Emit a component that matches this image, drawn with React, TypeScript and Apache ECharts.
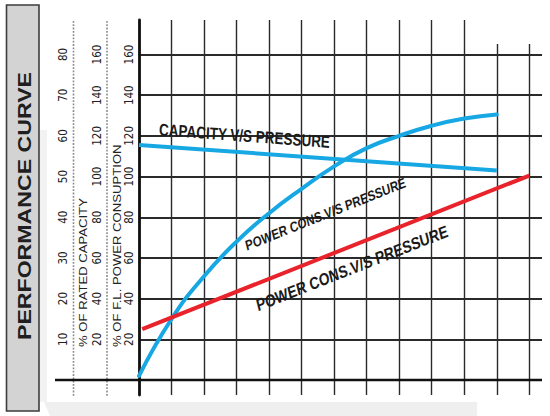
import React, { useEffect, useRef } from "react";
import * as echarts from "echarts";

// ---- data ----
const pressureSteps = [0, 1, 2, 3, 4, 5, 6, 7, 8, 9, 10, 11];
const powerConsCurve = [2, 30, 51, 68, 82, 94, 105, 114, 120, 125, 128.5, 130.5];
const capacityLineX = [0, 11];
const capacityLine = [115.5, 103];
const powerConsLineX = [0.1, 12];
const powerConsLine = [25, 100.5];

const powerTickLabels = [20, 40, 60, 80, 100, 120, 140, 160];
const capacityTickLabels = [20, 40, 60, 80, 100, 120, 140, 160];
const ratedTickLabels = [10, 20, 30, 40, 50, 60, 70, 80];
const pressureCells = 12;

const titleText = "PERFORMANCE CURVE";
const axisNames = ["% OF RATED CAPACITY", "% OF F.L. POWER CONSUPTION"];
const curveLabels = ["CAPACITY V/S PRESSURE", "POWER CONS.V/S PRESSURE", "POWER CONS.V/S PRESSURE"];

// ---- layout ----
const S = 1.25; // vertical stretch of the scanned sheet (texts look tall)
const FONT = "'Liberation Sans', Arial, Helvetica, sans-serif";
const NARROW = "'Liberation Sans Narrow', 'Arial Narrow', 'DejaVu Sans Condensed', 'Liberation Sans', sans-serif";
const BLUE = "#17a8e3";
const RED = "#e8232b";
const GRIDC = "#2a2a2a";

const plotLeft = 139;
const plotRight = 529.3;
const plotTop = 54.5;
const plotBottom = 380;
const gridRightEdge = 542;
const cellW = (plotRight - plotLeft) / pressureCells;

function stretchedText(
  text: string,
  x: number,
  y: number,
  rotation: number,
  font: string,
  align: string,
  fill: string,
  z: number
) {
  return {
    type: "group",
    x,
    y,
    scaleY: S,
    z,
    children: [
      {
        type: "text",
        rotation,
        z,
        style: { text, fill, font, textAlign: align, textVerticalAlign: "middle" },
      },
    ],
  };
}

function slopeLabel(text: string, cx: number, cy: number, x1: number, y1: number, x2: number, y2: number, size: number) {
  const rot = -Math.atan2((y2 - y1) / S, x2 - x1);
  return stretchedText(text, cx, cy, rot, `bold ${size}px ${FONT}`, "center", "#1a1a1a", 20);
}

function tickAxis(labels: number[], offset: number, split: boolean) {
  return {
    type: "value",
    gridIndex: 0,
    position: "left",
    offset,
    min: 0,
    max: labels[labels.length - 1],
    interval: labels[1] - labels[0],
    axisLine: { show: false },
    axisTick: { show: false },
    splitLine: split
      ? { show: true, showMinLine: false, lineStyle: { color: GRIDC, width: 1.9, type: "solid" } }
      : { show: false },
    axisLabel: {
      rotate: 90,
      margin: 4,
      fontSize: 11.5,
      color: "#222",
      fontFamily: NARROW,
      showMinLabel: false,
    },
  };
}

export default function App() {
  const ref = useRef<HTMLDivElement>(null);
  useEffect(() => {
    const chart = echarts.init(ref.current!, null, { renderer: "svg", width: 550, height: 416 });
    const option: any = {
      animation: false,
      backgroundColor: "#ffffff",
      grid: [
        { left: plotLeft, top: plotTop, width: gridRightEdge - plotLeft, height: plotBottom - plotTop },
        { left: plotLeft, top: 20, width: plotRight - plotLeft, height: 395 - 20 },
      ],
      xAxis: [
        {
          type: "value",
          gridIndex: 0,
          min: 0,
          max: (gridRightEdge - plotLeft) / cellW,
          interval: 1,
          axisLine: { show: false },
          axisTick: { show: false },
          axisLabel: { show: false },
          splitLine: { show: false },
        },
        {
          type: "value",
          gridIndex: 1,
          min: 0,
          max: pressureCells,
          interval: 1,
          axisLine: { show: false },
          axisTick: { show: false },
          axisLabel: { show: false },
          splitLine: { show: true, lineStyle: { color: GRIDC, width: 1.4 } },
        },
      ],
      yAxis: [
        tickAxis(powerTickLabels, 0, true),
        tickAxis(capacityTickLabels, 32, false),
        tickAxis(ratedTickLabels, 66.5, false),
        {
          type: "value",
          gridIndex: 1,
          min: 0,
          max: 1,
          axisLine: { show: true, lineStyle: { color: "#111", width: 2.8 } },
          axisTick: { show: false },
          axisLabel: { show: false },
          splitLine: { show: false },
        },
      ],
      series: [
        {
          name: curveLabels[1],
          type: "line",
          xAxisIndex: 0,
          yAxisIndex: 0,
          data: pressureSteps.map((x, i) => [x, powerConsCurve[i]]),
          smooth: 0.5,
          showSymbol: false,
          lineStyle: { color: BLUE, width: 4, cap: "round" },
          z: 5,
        },
        {
          name: curveLabels[0],
          type: "line",
          xAxisIndex: 0,
          yAxisIndex: 1,
          data: capacityLineX.map((x, i) => [x, capacityLine[i]]),
          showSymbol: false,
          lineStyle: { color: BLUE, width: 4 },
          z: 5,
        },
        {
          name: curveLabels[2],
          type: "line",
          xAxisIndex: 0,
          yAxisIndex: 0,
          data: powerConsLineX.map((x, i) => [x, powerConsLine[i]]),
          showSymbol: false,
          lineStyle: { color: RED, width: 4 },
          z: 6,
        },
      ],
      graphic: {
        elements: [
          {
            type: "polygon",
            z: 0,
            shape: { points: [[44, 402], [477, 402], [477, 416], [50, 416]] },
            style: { fill: "#efefef" },
          },
          {
            type: "rect",
            z: 0,
            shape: { x: 40, y: 130, width: 7, height: 272 },
            style: { fill: "#f2f2f2" },
          },
          {
            type: "rect",
            z: 1,
            shape: { x: 6.5, y: 5, width: 32.5, height: 406 },
            style: { fill: "#d3d3d3", stroke: "#3c3c3c", lineWidth: 1.6 },
          },
          stretchedText(titleText, 24, 206, Math.PI / 2, `bold 18.5px ${FONT}`, "center", "#1f1f1f", 2),
          {
            type: "line",
            z: 1,
            shape: { x1: 73.5, y1: 21, x2: 73.5, y2: 396 },
            style: { stroke: "#8a8a8a", lineWidth: 1.6, lineDash: [1.8, 1.5] },
          },
          {
            type: "line",
            z: 1,
            shape: { x1: 107, y1: 21, x2: 107, y2: 396 },
            style: { stroke: "#8a8a8a", lineWidth: 1.6, lineDash: [1.8, 1.5] },
          },
          {
            type: "line",
            z: 3,
            shape: { x1: 55, y1: plotBottom, x2: gridRightEdge, y2: plotBottom },
            style: { stroke: "#111", lineWidth: 2.7 },
          },
          {
            type: "rect",
            z: 10,
            shape: { x: 466, y: 0, width: 90, height: 44 },
            style: { fill: "#ffffff" },
          },
          stretchedText(axisNames[0], 83, 347, Math.PI / 2, `10.5px ${FONT}`, "left", "#222", 2),
          stretchedText(axisNames[1], 117.5, 347, Math.PI / 2, `10.5px ${FONT}`, "left", "#222", 2),
          slopeLabel(curveLabels[0], 244.5, 135.5, 160, 129, 332, 142, 13.5),
          slopeLabel(curveLabels[1], 325.5, 214, 248, 245, 403, 183, 11.5),
          slopeLabel(curveLabels[2], 352, 268, 263, 303, 441, 233, 13.7),
        ],
      },
    };
    chart.setOption(option);
    return () => chart.dispose();
  }, []);
  return (
    <div
      ref={ref}
      style={{ position: "absolute", left: 0, top: 0, width: 550, height: 416, background: "#fff" }}
    />
  );
}
